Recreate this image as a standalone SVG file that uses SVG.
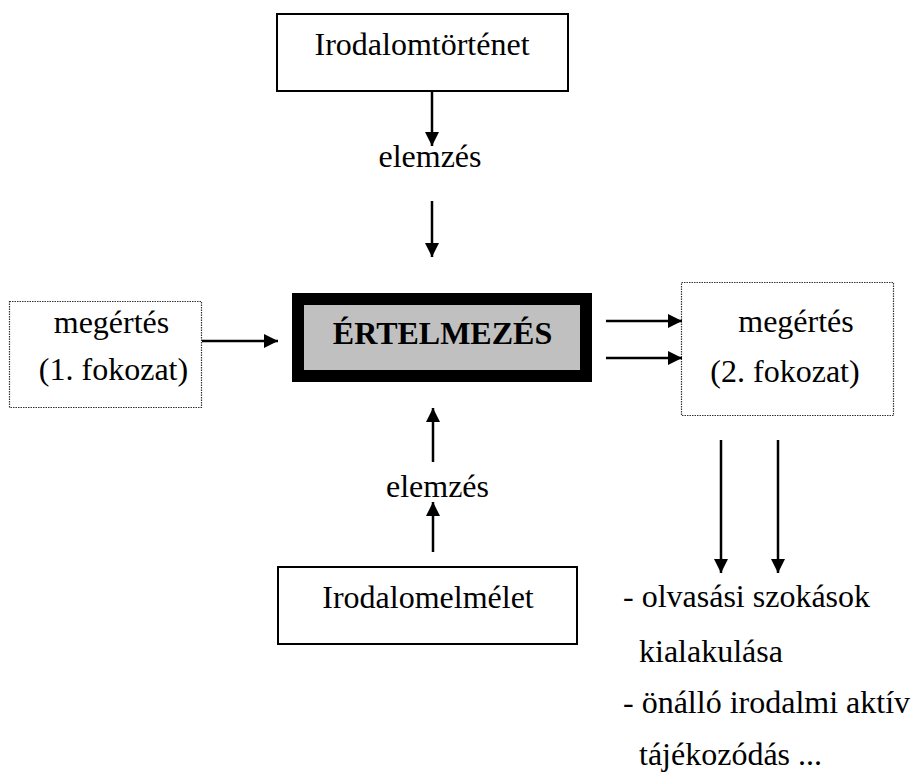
<svg xmlns="http://www.w3.org/2000/svg" width="911" height="778" viewBox="0 0 911 778" font-family="'Liberation Serif', 'Times New Roman', Times, serif" font-size="32">
<style>
.c{text-anchor:middle}
.box{fill:#fff;stroke:#000;stroke-width:2}
.dot{fill:#fff;stroke:#333;stroke-width:1.2;stroke-dasharray:1.5 1}
.ar{stroke:#000;stroke-width:2.5;fill:none;marker-end:url(#ah)}
</style>
<defs>
<marker id="ah" markerUnits="userSpaceOnUse" markerWidth="15" markerHeight="15" refX="14" refY="7" orient="auto">
<path d="M0,0 L14,7 L0,14 z" fill="#000"/>
</marker>
</defs>
<rect width="911" height="778" fill="#fff"/>
<g id="irodalomtortenet">
<rect class="box" x="277" y="14" width="291" height="77"/>
<text class="c" x="422" y="55">Irodalomtörténet</text>
</g>
<g id="elemzes-top">
<text class="c" x="430" y="167">elemzés</text>
</g>
<g id="ertelmezes">
<rect x="298" y="299" width="288" height="77" fill="#c0c0c0" stroke="#000" stroke-width="12"/>
<text class="c" x="442.5" y="344" font-weight="bold">ÉRTELMEZÉS</text>
</g>
<g id="megertes1">
<rect class="dot" x="9.5" y="301.5" width="192" height="106"/>
<text class="c" x="111.5" y="333">megértés</text>
<text class="c" x="113.5" y="380">(1. fokozat)</text>
</g>
<g id="megertes2">
<rect class="dot" x="681.5" y="282.5" width="212" height="133"/>
<text class="c" x="796" y="332">megértés</text>
<text class="c" x="785" y="382">(2. fokozat)</text>
</g>
<g id="elemzes-bottom">
<text class="c" x="437.5" y="497">elemzés</text>
</g>
<g id="irodalomelmelet">
<rect class="box" x="278" y="567" width="299" height="77"/>
<text class="c" x="428" y="608">Irodalomelmélet</text>
</g>
<g id="eredmenyek">
<text x="623" y="607">- olvasási szokások</text>
<text x="639" y="662">kialakulása</text>
<text x="623" y="713">- önálló irodalmi aktív</text>
<text x="639" y="765">tájékozódás ...</text>
</g>
<g id="connectors">
<line class="ar" x1="432" y1="92" x2="432" y2="146"/>
<line class="ar" x1="432" y1="201" x2="432" y2="257"/>
<line class="ar" x1="202" y1="341" x2="278" y2="341"/>
<line class="ar" x1="606" y1="321" x2="682" y2="321"/>
<line class="ar" x1="606" y1="358" x2="682" y2="358"/>
<line class="ar" x1="433" y1="462" x2="433" y2="408"/>
<line class="ar" x1="433" y1="552" x2="433" y2="502"/>
<line class="ar" x1="721" y1="440" x2="721" y2="573"/>
<line class="ar" x1="778" y1="440" x2="778" y2="573"/>
</g>
</svg>
